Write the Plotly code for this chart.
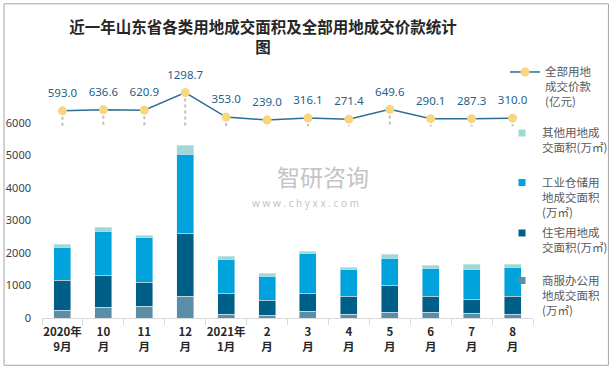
import plotly.graph_objects as go

categories = ["2020年<br>9月", "10<br>月", "11<br>月", "12<br>月", "2021年<br>1月", "2<br>月",
              "3<br>月", "4<br>月", "5<br>月", "6<br>月", "7<br>月", "8<br>月"]
commercial = [236, 328, 359, 667, 113, 82, 205, 113, 174, 174, 144, 113]
residential = [923, 985, 739, 1939, 646, 462, 554, 554, 831, 493, 431, 554]
industrial = [1016, 1355, 1385, 2431, 1047, 739, 1231, 831, 832, 862, 923, 892]
other = [92, 123, 61, 277, 92, 92, 62, 62, 123, 92, 154, 92]
price = [593.0, 636.6, 620.9, 1298.7, 353.0, 239.0, 316.1, 271.4, 649.6, 290.1, 287.3, 310.0]
y_ticks = [0, 1000, 2000, 3000, 4000, 5000, 6000]

names = {
    "commercial": "商服办公用<br>地成交面积<br>(万㎡)",
    "residential": "住宅用地成<br>交面积(万㎡)",
    "industrial": "工业仓储用<br>地成交面积<br>(万㎡)",
    "other": "其他用地成<br>交面积(万㎡)",
    "price": "全部用地<br>成交价款<br>(亿元)",
}
colors = {
    "commercial": "#5b8fa8",
    "residential": "#005f86",
    "industrial": "#00a3dc",
    "other": "#a0d8d6",
}

W, H = 614, 370
L, R, T, B = 42, 80.5, 57.7, 52.3
PW, PH = W - L - R, H - T - B

def px_x(x):
    return (x - L) / PW

def px_y(y):
    return (H - B - y) / PH

def cx(x):
    return x / W

def cy(y):
    return 1 - y / H

font_cjk = "Noto Sans CJK SC"
fig = go.Figure()

series = [("commercial", commercial, "legend5"), ("residential", residential, "legend4"),
          ("industrial", industrial, "legend3"), ("other", other, "legend2")]
for key, vals, lg in series:
    fig.add_trace(go.Bar(x=categories, y=vals, marker_color=colors[key], width=0.415,
                         showlegend=False, name=names[key], hoverinfo="y"))
    # legend-only entry with a small square symbol
    fig.add_trace(go.Scatter(x=[None], y=[None], mode="markers", name=names[key],
                             marker=dict(symbol="square", size=7, color=colors[key]),
                             legend=lg, showlegend=True))

# dotted drop lines from each price point to zero on the secondary axis
drop_x, drop_y = [], []
for c, v in zip(categories, price):
    drop_x += [c, c, None]
    drop_y += [v, 0, None]
fig.add_trace(go.Scatter(x=drop_x, y=drop_y, mode="lines", yaxis="y2",
                         line=dict(color="#bfbfbf", width=2, dash="dot"),
                         showlegend=False, hoverinfo="skip"))

fig.add_trace(go.Scatter(x=categories, y=price, mode="lines+markers", yaxis="y2",
                         name=names["price"], legend="legend",
                         line=dict(color="#2a6f93", width=1.5),
                         marker=dict(color="#f8d57e", size=9)))
# data labels
fig.add_trace(go.Scatter(x=categories, y=price, mode="markers+text", yaxis="y2",
                         text=[f"{v:.1f}" for v in price], textposition="top center",
                         textfont=dict(family="Noto Sans", size=11.5, color="#1f5f8b"),
                         marker=dict(size=16, opacity=0), showlegend=False, hoverinfo="skip"))

legend_common = dict(bgcolor="rgba(0,0,0,0)", valign="top", xanchor="left", yanchor="top",
                     xref="container", yref="container",
                     font=dict(family=font_cjk, size=11.5, color="#595959"), itemclick=False)
fig.update_layout(
    legend=dict(x=cx(505), y=cy(58), **legend_common),
    legend2=dict(x=cx(502), y=cy(119), **legend_common),
    legend3=dict(x=cx(502), y=cy(168.5), **legend_common),
    legend4=dict(x=cx(502), y=cy(219), **legend_common),
    legend5=dict(x=cx(502), y=cy(266.5), **legend_common),
)

fig.update_layout(
    width=W, height=H,
    margin=dict(l=L, r=R, t=T, b=B, autoexpand=False),
    paper_bgcolor="white", plot_bgcolor="white",
    barmode="stack",
    title=dict(text="近一年山东省各类用地成交面积及全部用地成交价款统计<br>图",
               x=263 / W, xanchor="center", xref="container",
               y=1 - 33 / H, yanchor="middle", yref="container",
               font=dict(family=font_cjk, size=15.5, color="#262626", weight="bold")),
    xaxis=dict(type="category", range=[-0.5, len(categories) - 0.5],
               showline=True, linecolor="#d9d9d9", linewidth=1,
               ticks="outside", tickson="boundaries", ticklen=6, tickcolor="#d9d9d9",
               tickangle=0, automargin=False, ticklabelstandoff=3,
               tickfont=dict(family=font_cjk, size=11.5, color="#262626", weight="bold"),
               showgrid=False, fixedrange=True),
    yaxis=dict(range=[0, 8000], tickvals=y_ticks, showgrid=False, zeroline=False,
               showline=False, tickfont=dict(family="Noto Sans", size=11, color="#404040"),
               ticks="", ticklabelstandoff=10, automargin=False),
    yaxis2=dict(range=[-7417, 2637], overlaying="y", side="right", visible=False,
                showgrid=False, zeroline=False, automargin=False),
    annotations=[
        dict(text="智研咨询", x=px_x(323), y=px_y(176), xref="paper", yref="paper",
             showarrow=False, font=dict(family=font_cjk, size=23, color="#c4c4c4")),
        dict(text="w w w . c h y x x . c o m", x=px_x(306), y=px_y(203), xref="paper", yref="paper",
             showarrow=False, font=dict(family="Noto Sans", size=10, color="#c4c4c4")),
    ],
    shapes=[
        dict(type="rect", xref="paper", yref="paper",
             x0=px_x(4), x1=px_x(609), y0=px_y(365), y1=px_y(3.5),
             line=dict(color="#a6a6a6", width=1), fillcolor="rgba(0,0,0,0)", layer="below"),
    ],
)

fig.write_html("out.html", config={"displayModeBar": False},
               post_script="document.body.style.margin='0';")
